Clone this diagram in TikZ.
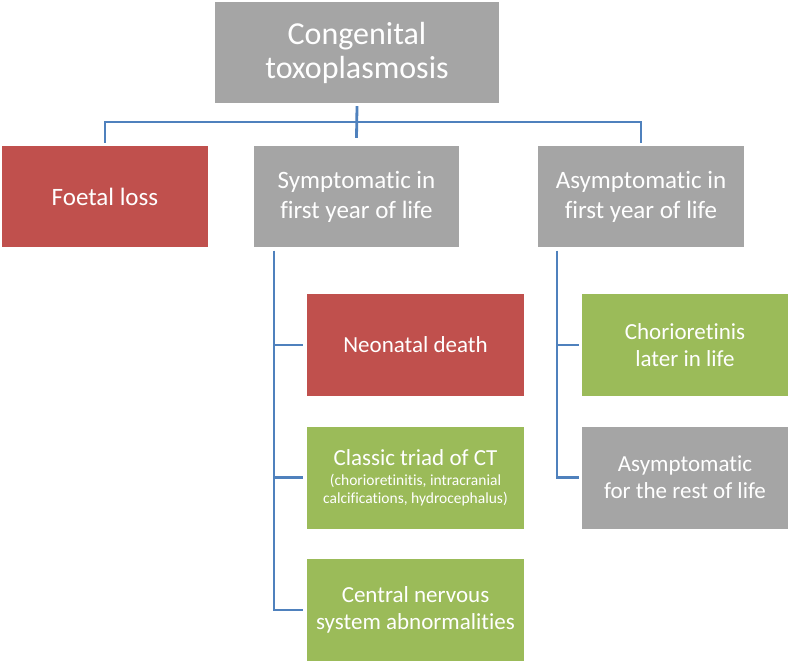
\documentclass[tikz,border=0pt]{standalone}
\usepackage{fontspec}
\setmainfont{Carlito}[Ligatures=CommonOff]
\definecolor{boxgray}{HTML}{A5A5A5}
\definecolor{boxred}{HTML}{C0504D}
\definecolor{boxgreen}{HTML}{9BBB59}
\definecolor{linkblue}{HTML}{4F81BD}
\begin{document}
\begin{tikzpicture}[x=1pt,y=-1pt,
  box/.style={rectangle,inner sep=0pt,text=white,align=center,anchor=center},
  topbox/.style={box,fill=boxgray,minimum width=284pt,minimum height=101pt,font=\fontsize{32}{34}\selectfont},
  midbox/.style={box,minimum width=206pt,minimum height=101pt,font=\fontsize{25}{30}\selectfont},
  lowbox/.style={box,minimum height=102pt,font=\fontsize{23}{27}\selectfont},
  conn/.style={draw=linkblue,line width=2.8pt}]
\useasboundingbox (0,0) rectangle (790,663);
\fill[white] (0,0) rectangle (790,663);
\node[topbox] (top) at (357,52.5) {Congenital\\toxoplasmosis};
\node[midbox,fill=boxred] (foetal) at (105,196.5) {Foetal loss};
\node[midbox,fill=boxgray,minimum width=205pt] (sym) at (356.5,196.5) {Symptomatic in\\first year of life};
\node[midbox,fill=boxgray] (asym) at (641,196.5) {Asymptomatic in\\first year of life};
\node[lowbox,fill=boxred,minimum width=217pt] (neo) at (415.5,345) {Neonatal death};
\node[lowbox,fill=boxgreen,minimum width=217pt] (triad) at (415.5,477.5) {Classic triad of CT\\[-7pt]{\fontsize{15.5}{17}\selectfont (chorioretinitis, intracranial}\\[-9pt]{\fontsize{15.5}{17}\selectfont calcifications, hydrocephalus)}};
\node[lowbox,fill=boxgreen,minimum width=217pt] (cns) at (415.5,610) {Central nervous\\system abnormalities};
\node[lowbox,fill=boxgreen,minimum width=206pt] (chorio) at (685,345) {Chorioretinis\\later in life};
\node[lowbox,fill=boxgray,minimum width=206pt] (rest) at (685,477.5) {Asymptomatic\\for the rest of life};
\coordinate (busL) at (105,122);
\coordinate (busR) at (641,122);
\coordinate (symtrunk) at (274,251);
\coordinate (asymtrunk) at (557,251);
\draw[conn] ([yshift=-3pt]top.south) -- ([yshift=8pt]sym.north);
\draw[conn] ([yshift=3pt]foetal.north) -- (busL) -- (busR) -- ([yshift=3pt]asym.north);
\draw[conn] (symtrunk) |- ([xshift=-4pt]neo.west);
\draw[conn] (symtrunk) |- ([xshift=-4pt]triad.west);
\draw[conn] (symtrunk) |- ([xshift=-4pt]cns.west);
\draw[conn] (asymtrunk) |- ([xshift=-3pt]chorio.west);
\draw[conn] (asymtrunk) |- ([xshift=-3pt]rest.west);
\end{tikzpicture}
\end{document}
